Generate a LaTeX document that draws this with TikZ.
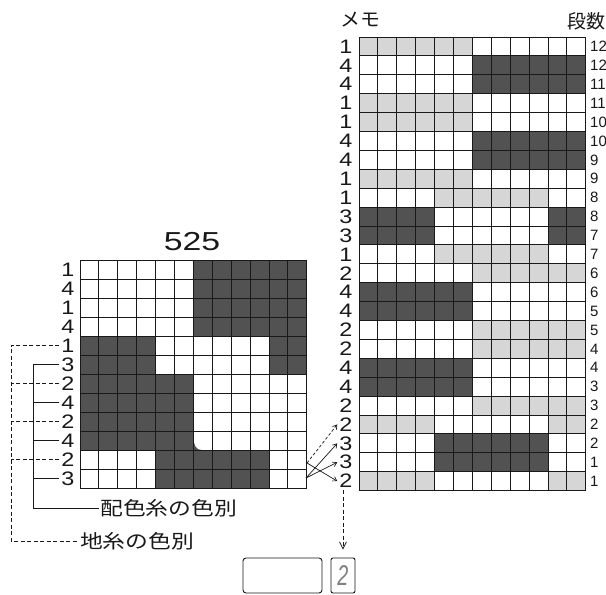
\documentclass[tikz,border=0pt]{standalone}
\usepackage{fontspec}
\usepackage{graphicx}
\setmainfont{Liberation Sans}
\newfontfamily\jpfont{Noto Sans CJK JP}
\usetikzlibrary{arrows.meta}
\definecolor{darkc}{gray}{0.32}
\definecolor{lightc}{gray}{0.84}
\definecolor{inkc}{gray}{0.10}
\newcommand{\hwide}[2][1.2]{\scalebox{#1}[1]{#2}}
\tikzset{
  gridl/.style={line width=1pt, draw=inkc},
  darkfill/.style={fill=darkc},
  lightfill/.style={fill=lightc},
  lab/.style={font=\fontsize{19.5}{19.5}\selectfont, text=inkc, inner sep=2pt},
  smalllab/.style={font=\fontsize{15}{15}\selectfont, text=inkc, inner sep=0pt, anchor=west},
  jptext/.style={font=\jpfont\fontsize{19}{19}\selectfont, text=inkc, inner sep=1pt},
  bracket/.style={line width=0.8pt, draw=inkc},
  dashbracket/.style={line width=0.8pt, draw=inkc, dash pattern=on 4pt off 2.5pt},
  arr/.style={line width=0.7pt, draw=inkc, -{Straight Barb[length=4pt,width=5pt]}},
  varr/.style={line width=0.7pt, draw=inkc, dash pattern=on 4pt off 2.5pt, -{Straight Barb[length=7pt,width=7pt]}},
  boxst/.style={draw=inkc, line width=0.9pt, inner sep=0pt}
}
\begin{document}
\begin{tikzpicture}[x=1pt,y=-1pt]
\useasboundingbox (0,0) rectangle (606,595);
\fill[white] (0,0) rectangle (606,595);

% ---------- left grid ----------
\begin{scope}[shift={(80,260)}, x=18.9pt, y=-19pt]
  \fill[darkfill] (6,0) rectangle (12,4);
  \fill[darkfill] (0,4) rectangle (4,6);
  \fill[darkfill] (10,4) rectangle (12,6);
  \fill[darkfill] (0,6) rectangle (6,10);
  \fill[darkfill] (4,10) rectangle (10,12);
  \fill[darkfill] (6,9.3) .. controls (6,9.75) and (6.15,10) .. (6.42,10) -- (6,10) -- cycle;
  \foreach \i in {0,...,12} \draw[gridl] (\i,0) -- (\i,12);
  \foreach \j in {0,...,12} \draw[gridl] (0,\j) -- (12,\j);
\end{scope}

\node[font=\fontsize{26}{26}\selectfont, text=inkc] (title) at (192,242) {\hwide[1.3]{525}};

\foreach \v [count=\i] in {1,4,1,4,1,3,2,4,2,4,2,3}
  \node[lab] (L\i) at (68,{260+19*(\i-0.5)}) {\hwide{\v}};

% brackets
\node[jptext, anchor=west] (haishoku) at (99,508) {\hwide{配色糸の色別}};
\node[jptext, anchor=west] (jiito) at (79,541) {\hwide{地糸の色別}};
\coordinate (dA) at (11,541);
\coordinate (sA) at (33,508);
\draw[dashbracket] (L5.west) -| (dA) -- (jiito.west);
\foreach \k in {7,9,11} \draw[dashbracket] (L\k.west) -- (L\k.west -| dA);
\draw[bracket] (L6.west) -| (sA) -- (haishoku.west);
\foreach \k in {8,10,12} \draw[bracket] (L\k.west) -- (L\k.west -| sA);

% ---------- right grid ----------
\begin{scope}[shift={(359,37)}, x=18.9pt, y=-18.9pt]
  \fill[darkfill] (6,1) rectangle (12,3);
  \fill[darkfill] (6,5) rectangle (12,7);
  \fill[darkfill] (0,9) rectangle (4,11);
  \fill[darkfill] (10,9) rectangle (12,11);
  \fill[darkfill] (0,13) rectangle (6,15);
  \fill[darkfill] (0,17) rectangle (6,19);
  \fill[darkfill] (4,21) rectangle (10,23);
  \fill[lightfill] (0,0) rectangle (6,1);
  \fill[lightfill] (0,3) rectangle (6,5);
  \fill[lightfill] (0,7) rectangle (6,8);
  \fill[lightfill] (4,8) rectangle (10,9);
  \fill[lightfill] (4,11) rectangle (10,12);
  \fill[lightfill] (6,12) rectangle (12,13);
  \fill[lightfill] (6,15) rectangle (12,17);
  \fill[lightfill] (6,19) rectangle (12,20);
  \fill[lightfill] (0,20) rectangle (4,21);
  \fill[lightfill] (10,20) rectangle (12,21);
  \fill[lightfill] (0,23) rectangle (4,24);
  \fill[lightfill] (10,23) rectangle (12,24);
  \foreach \i in {0,...,12} \draw[gridl] (\i,0) -- (\i,24);
  \foreach \j in {0,...,24} \draw[gridl] (0,\j) -- (12,\j);
\end{scope}

\node[jptext, font=\jpfont\fontsize{19}{19}\selectfont] (memo) at (360,20) {\hwide[1.05]{メモ}};
\node[jptext, font=\jpfont\fontsize{19}{19}\selectfont] (dansu) at (586,21) {段数};

\foreach \v [count=\i] in {1,4,4,1,1,4,4,1,1,3,3,1,2,4,4,2,2,4,4,2,2,3,3,2}
  \node[lab] (R\i) at (346,{37+18.9*(\i-0.5)}) {\hwide{\v}};
\foreach \v [count=\i] in {12,12,11,11,10,10,9,9,8,8,7,7,6,6,5,5,4,4,3,3,2,2,1,1}
  \node[smalllab] (S\i) at (590,{37+18.9*(\i-0.5)}) {\v};

% ---------- arrows ----------
\coordinate (a1) at (307,463);
\coordinate (a2) at (306,478);
\draw[arr, dash pattern=on 3pt off 2pt] (a1) -- (R21.west);
\draw[arr] (a2) -- (R22.west);
\draw[arr] (a2) -- (R23.west);
\draw[arr] (a1) -- (R24.west);

% ---------- boxes ----------
\node[boxst, rounded corners=3pt, minimum width=79pt, minimum height=35pt] (bigbox) at (282.5,575.5) {};
\node[boxst, rounded corners=2pt, minimum width=24pt, minimum height=35pt] (digit) at (343,575.5)
  {\color{gray}\fontsize{22}{22}\selectfont\scalebox{0.9}[1.3]{\textsl{2}}};
\draw[varr, shorten >=8pt] (R24.south -| digit.north) -- (digit.north);
\end{tikzpicture}
\end{document}
